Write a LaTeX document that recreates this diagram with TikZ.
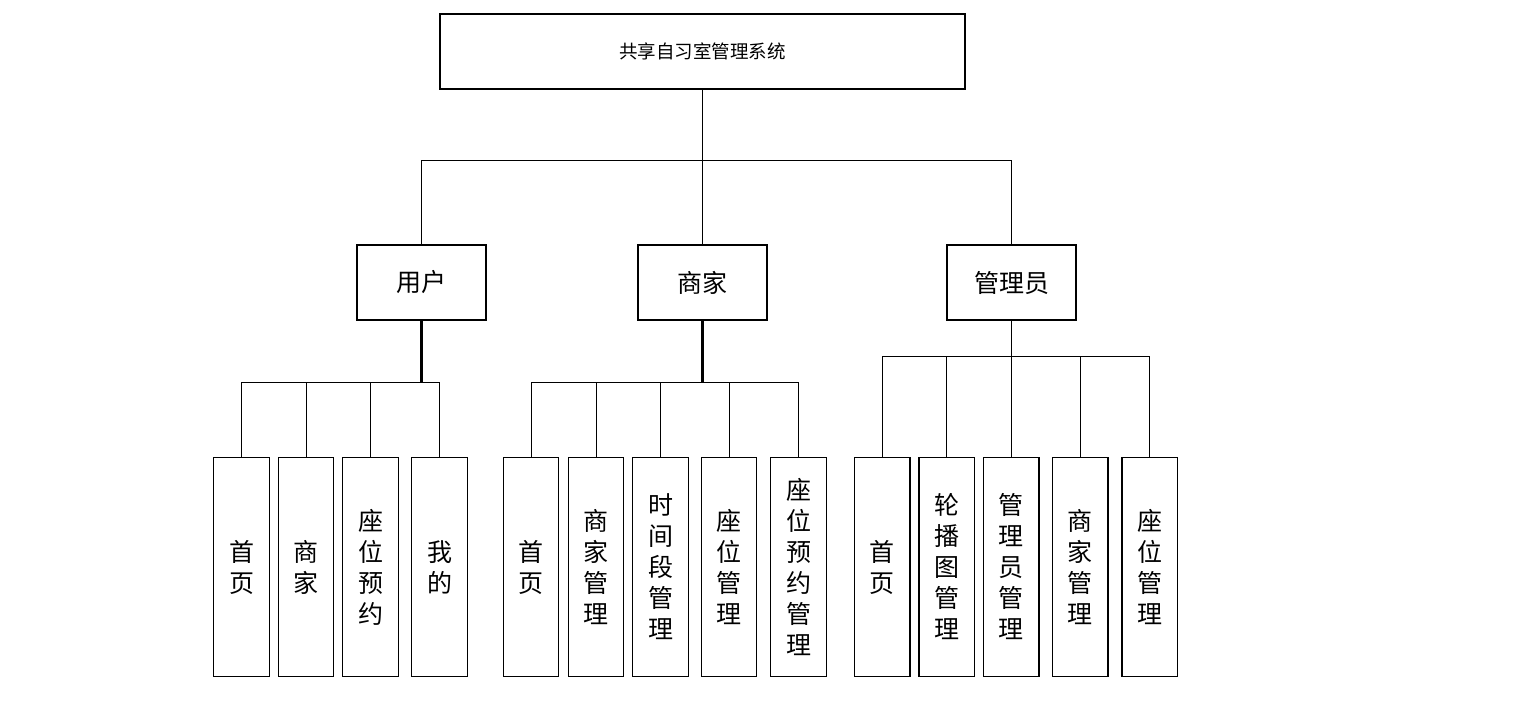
\documentclass[tikz,border=0pt]{standalone}
\usepackage{fontspec}
\newfontfamily\cjk{Noto Sans CJK SC}
\usetikzlibrary{positioning}

\begin{document}
\begin{tikzpicture}[x=1pt,y=1pt,
  box/.style={draw,line width=1.4pt,inner sep=0pt,align=center},
  sysbox/.style={box,minimum width=525pt,minimum height=75pt,font={\cjk\fontsize{18.5pt}{22pt}\selectfont}},
  rolebox/.style={box,minimum width=129pt,minimum height=75pt,font={\cjk\fontsize{25pt}{28pt}\selectfont}},
  funcbox/.style={box,minimum width=55.5pt,minimum height=219pt,font={\cjk\fontsize{25pt}{31pt}\selectfont}},
  link/.style={line width=0.9pt},
  drop/.style={line width=2.2pt}]
\useasboundingbox (0,0) rectangle (1529,-715);
% top and roles
\node[sysbox] (sys) at (702.5,-51.5) {共享自习室管理系统};
\node[rolebox] (user) at (421.5,-282.5) {用户};
\node[rolebox] (shop) at (702.5,-282.5) {商家};
\node[rolebox] (admin) at (1011.5,-282.5) {管理员};
\foreach \r in {user,shop,admin}
  \draw[link] (sys.south) -- ++(0,-71) -| (\r.north);
% user functions
\foreach \x/\t [count=\i] in {241.5/首\\页, 306/商\\家, 370.5/座\\位\\预\\约, 439.5/我\\的} {
  \node[funcbox] (u\i) at (\x,-567) {\t};
  \draw[link] (user.south) -- ++(0,-62) -| (u\i.north);
}
\draw[drop] (user.south) -- ++(0,-62);
% shop functions
\foreach \x/\t [count=\i] in {531/首\\页, 596/商\\家\\管\\理, 660.5/时\\间\\段\\管\\理, 729/座\\位\\管\\理, 798.5/座\\位\\预\\约\\管\\理} {
  \node[funcbox] (s\i) at (\x,-567) {\t};
  \draw[link] (shop.south) -- ++(0,-62) -| (s\i.north);
}
\draw[drop] (shop.south) -- ++(0,-62);
% admin functions
\foreach \x/\t [count=\i] in {882.3/首\\页, 946.7/轮\\播\\图\\管\\理, 1011.3/管\\理\\员\\管\\理, 1080.3/商\\家\\管\\理, 1149.7/座\\位\\管\\理} {
  \node[funcbox] (a\i) at (\x,-567) {\t};
  \draw[link] (admin.south) -- ++(0,-36) -| (a\i.north);
}
\end{tikzpicture}
\end{document}
